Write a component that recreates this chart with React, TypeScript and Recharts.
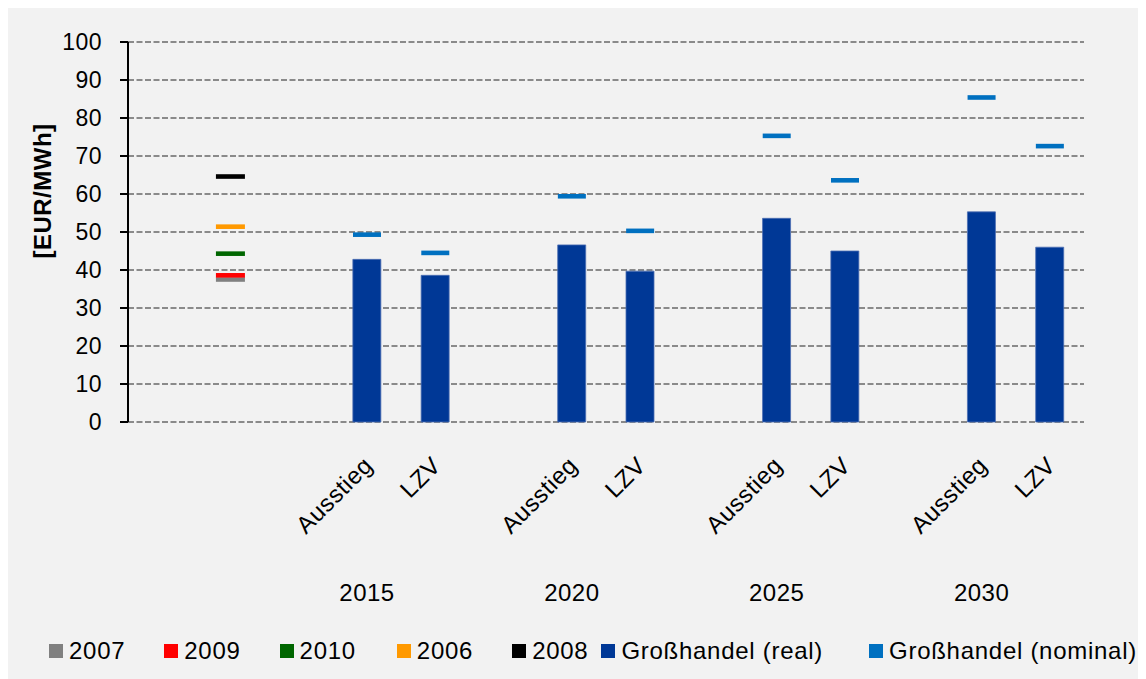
import React from 'react';
import {
  ComposedChart,
  Bar,
  Scatter,
  XAxis,
  YAxis,
  CartesianGrid,
  Legend,
  Label,
} from 'recharts';

// Category slots along the x axis (empty slots act as spacers between groups)
const slotKeys = ['s0', 'hist', 's2', 'a2015', 'l2015', 's5', 'a2020', 'l2020', 's8', 'a2025', 'l2025', 's11', 'a2030', 'l2030'];
const scenarioLabels = ['', '', '', 'Ausstieg', 'LZV', '', 'Ausstieg', 'LZV', '', 'Ausstieg', 'LZV', '', 'Ausstieg', 'LZV'];
const yearLabels = ['', '', '', '2015', '', '', '2020', '', '', '2025', '', '', '2030', ''];

// Wholesale prices [EUR/MWh]
const realPrices = [null, null, null, 42.8, 38.6, null, 46.6, 39.7, null, 53.6, 45.0, null, 55.3, 46.0];
const nominalPrices = [null, null, null, 49.3, 44.5, null, 59.4, 50.3, null, 75.3, 63.6, null, 85.4, 72.6];

// Historical prices, shown in the "hist" slot
const historicalYears = ['2007', '2009', '2010', '2006', '2008'];
const historicalPrices = [37.5, 38.6, 44.3, 51.4, 64.6];
const historicalColors = ['#808080', '#FF0000', '#006600', '#FF9900', '#000000'];

const yTicks = [0, 10, 20, 30, 40, 50, 60, 70, 80, 90, 100];

const REAL_COLOR = '#003896';
const NOMINAL_COLOR = '#0070C0';
const FONT = '"Liberation Sans", Arial, sans-serif';

const data = slotKeys.map((slot, i) => {
  const row: Record<string, any> = { slot, real: realPrices[i], nominal: nominalPrices[i] };
  historicalYears.forEach((yr, k) => {
    row['h' + yr] = slot === 'hist' ? historicalPrices[k] : null;
  });
  return row;
});

const legendNames = [...historicalYears, 'Großhandel (real)', 'Großhandel (nominal)'];
const legendColors = [...historicalColors, REAL_COLOR, NOMINAL_COLOR];
const legendGaps = [41, 39, 39, 41, 39, 13, 46];

// Short horizontal dash drawn at a point's value
const makeDash = (key: string, color: string, w: number) => (props: any) => {
  const { cx, cy, payload } = props;
  if (!payload || payload[key] == null || cx == null || cy == null || isNaN(cx) || isNaN(cy)) {
    return <g />;
  }
  return <rect x={cx - w / 2} y={cy - 2.3} width={w} height={4.6} fill={color} />;
};

const CategoryTick = (props: any) => {
  const { x, y, payload } = props;
  const idx = slotKeys.indexOf(payload?.value);
  const sub = idx >= 0 ? scenarioLabels[idx] : '';
  const yr = idx >= 0 ? yearLabels[idx] : '';
  const px = x + 7;
  const py = y + 45;
  return (
    <g>
      {sub ? (
        <text
          x={px}
          y={py}
          transform={`rotate(-45 ${px} ${py})`}
          textAnchor="end"
          fontFamily={FONT}
          fontSize={24}
          letterSpacing={0.5}
          fill="#000"
        >
          {sub}
        </text>
      ) : null}
      {yr ? (
        <text x={x} y={y + 179} textAnchor="middle" fontFamily={FONT} fontSize={24} letterSpacing={0.5} fill="#000">
          {yr}
        </text>
      ) : null}
    </g>
  );
};

const YTitle = (props: any) => {
  const vb = props.viewBox || { x: 0, y: 0, width: 0, height: 0 };
  const cx = vb.x + 34;
  const cy = vb.y + vb.height / 2 - 41;
  return (
    <text
      x={cx}
      y={cy}
      transform={`rotate(-90 ${cx} ${cy})`}
      textAnchor="middle"
      dominantBaseline="central"
      fontFamily={FONT}
      fontWeight="bold"
      fontSize={24}
      letterSpacing={0.5}
      fill="#000"
    >
      [EUR/MWh]
    </text>
  );
};

const LegendContent = () => (
  <div
    style={{
      display: 'flex',
      alignItems: 'center',
      height: 40,
      fontFamily: FONT,
      fontSize: 24,
      letterSpacing: 0.72,
      color: '#000',
      whiteSpace: 'nowrap',
    }}
  >
    {legendNames.map((name, i) => (
      <div key={name} style={{ display: 'flex', alignItems: 'center', marginLeft: legendGaps[i] }}>
        <span style={{ display: 'inline-block', width: 14, height: 14, background: legendColors[i], marginRight: 6 }} />
        <span>{name}</span>
      </div>
    ))}
  </div>
);

export default function App() {
  return (
    <div style={{ width: 1130, height: 671, background: '#f2f2f2' }}>
      <ComposedChart
        width={1130}
        height={671}
        data={data}
        margin={{ top: 34, right: 54, bottom: 8, left: 0 }}
        barGap={0}
      >
        <CartesianGrid vertical={false} stroke="#8a8a8a" strokeWidth={2} strokeDasharray="6 2.5" />
        <XAxis
          dataKey="slot"
          type="category"
          interval={0}
          axisLine={false}
          tickLine={false}
          tickSize={0}
          tickMargin={0}
          height={209}
          tick={<CategoryTick />}
        />
        <YAxis
          type="number"
          domain={[0, 100]}
          ticks={yTicks}
          width={120}
          axisLine={{ stroke: '#000', strokeWidth: 2 }}
          tickLine={{ stroke: '#000', strokeWidth: 2 }}
          tickSize={8}
          tickMargin={18}
          tick={{ fontFamily: FONT, fontSize: 23, fill: '#000', letterSpacing: 0.5 } as any}
          interval={0}
        >
          <Label content={<YTitle />} />
        </YAxis>
        <Legend
          verticalAlign="bottom"
          content={<LegendContent />}
          wrapperStyle={{ left: 0, bottom: 8, width: 1130, height: 40 }}
        />
        {historicalYears.map((yr, k) => (
          <Scatter
            key={yr}
            name={yr}
            dataKey={'h' + yr}
            fill={historicalColors[k]}
            shape={makeDash('h' + yr, historicalColors[k], 29)}
            isAnimationActive={false}
          />
        ))}
        <Bar
          dataKey="real"
          name="Großhandel (real)"
          fill={REAL_COLOR}
          stroke="#4d6fb3"
          strokeWidth={0.8}
          barSize={28}
          isAnimationActive={false}
        />
        <Scatter
          dataKey="nominal"
          name="Großhandel (nominal)"
          fill={NOMINAL_COLOR}
          shape={makeDash('nominal', NOMINAL_COLOR, 28)}
          isAnimationActive={false}
        />
      </ComposedChart>
    </div>
  );
}
